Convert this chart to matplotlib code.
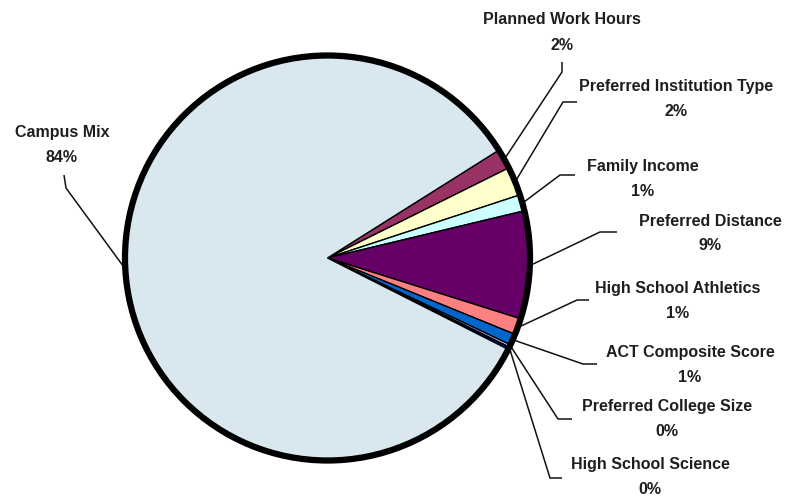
import numpy as np
import matplotlib
matplotlib.use("Agg")
import matplotlib.pyplot as plt
from matplotlib.patches import Circle

# Factor shares (percent), clockwise from the top of the small-slice fan
factors = ["Planned Work Hours", "Preferred Institution Type", "Family Income",
           "Preferred Distance", "High School Athletics", "ACT Composite Score",
           "Preferred College Size", "High School Science", "Campus Mix"]
shares = [1.6, 2.3, 1.3, 8.6, 1.3, 0.9, 0.2, 0.2, 83.6]
colors = ["#993366", "#ffffcc", "#ccffff", "#660066", "#ff8080", "#0066cc",
          "#ccccff", "#000080", "#d9e8ef"]

W, H = 790, 496
fig = plt.figure(figsize=(W / 100, H / 100), dpi=100)
ax = fig.add_axes([0, 0, 1, 1])


def Y(y):
    # pixel row (top-down) to data y
    return H - y


cx, cy, r = 327.5, Y(258), 202.5
wedges, _ = ax.pie(shares, colors=colors, startangle=32.2, counterclock=False,
                   center=(cx, cy), radius=r, frame=True,
                   wedgeprops=dict(edgecolor="black", linewidth=1.0))
ax.set_xlim(0, W)
ax.set_ylim(0, H)
ax.set_aspect("equal")
ax.axis("off")
ax.add_patch(Circle((cx, cy), r, fill=False, edgecolor="black", linewidth=4.5, zorder=5))

# label text centre (x, y of name line) and leader elbow points (pixels)
label_pos = {
    "Planned Work Hours": (562, 20, [(562, 62), (562, 72)]),
    "Preferred Institution Type": (676, 86, [(577, 102), (563, 102)]),
    "Family Income": (643, 167, [(575, 175), (560, 175)]),
    "Preferred Distance": (710, 221, [(617, 232), (600, 232)]),
    "High School Athletics": (678, 288, [(589, 300), (577, 300)]),
    "ACT Composite Score": (690, 352, [(597, 364), (583, 364)]),
    "Preferred College Size": (667, 406, [(572, 419), (558, 419)]),
    "High School Science": (650, 465, [(562, 478), (550, 478)]),
    "Campus Mix": (62, 132, [(64, 175), (66, 188)]),
}

tcolor = "#1e1e1e"
for w, name, val in zip(wedges, factors, shares):
    tx, ty, elbow = label_pos[name]
    ax.text(tx, Y(ty), name, ha="center", va="center", fontsize=11.5,
            fontweight="bold", family="Liberation Sans", color=tcolor, zorder=6)
    ax.text(tx, Y(ty + 25), f"{val:.0f}%", ha="center", va="center", fontsize=11.5,
            fontweight="bold", family="Liberation Sans", color=tcolor, zorder=6)
    mid = np.deg2rad((w.theta1 + w.theta2) / 2)
    ex, ey = cx + (r + 1) * np.cos(mid), cy + (r + 1) * np.sin(mid)
    xs = [p[0] for p in elbow] + [ex]
    ys = [Y(p[1]) for p in elbow] + [ey]
    ax.plot(xs, ys, color="#111111", linewidth=1.1, zorder=4, solid_capstyle="butt")

fig.savefig("out.png", dpi=100)
